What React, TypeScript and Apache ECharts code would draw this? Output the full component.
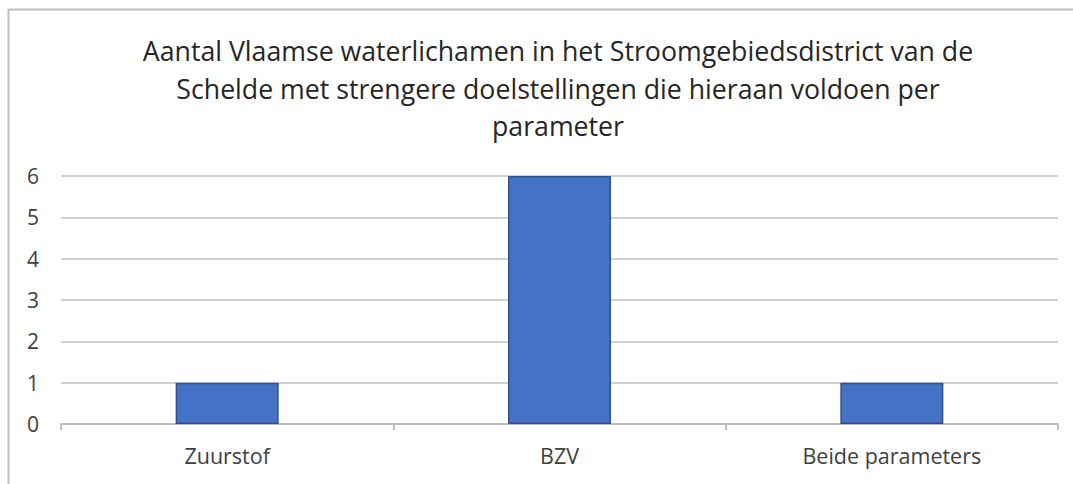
import React, { useEffect, useRef } from "react";
import * as echarts from "echarts";

const categories = ["Zuurstof", "BZV", "Beide parameters"];
const values = [1, 6, 1];
const titleLines = [
  "Aantal Vlaamse waterlichamen in het Stroomgebiedsdistrict van de",
  "Schelde met strengere doelstellingen die hieraan voldoen per",
  "parameter",
];

export default function App() {
  const ref = useRef<HTMLDivElement>(null);
  useEffect(() => {
    if (!ref.current) return;
    const chart = echarts.init(ref.current, undefined, { renderer: "svg" });
    const font = "'Open Sans', 'Noto Sans', sans-serif";
    chart.setOption({
      animation: false,
      backgroundColor: "#ffffff",
      textStyle: { fontFamily: font },
      title: {
        text: titleLines.join("\n"),
        left: 553,
        top: 27,
        textAlign: "center",
        textStyle: {
          fontFamily: font,
          fontSize: 26.7,
          fontWeight: "normal",
          color: "#262626",
          lineHeight: 37.5,
        },
      },
      graphic: [
        {
          type: "line",
          shape: { x1: 8.5, y1: 9, x2: 8.5, y2: 484 },
          style: { stroke: "#bdbdbd", lineWidth: 2 },
        },
        {
          type: "line",
          shape: { x1: 8, y1: 9.5, x2: 1073, y2: 9.5 },
          style: { stroke: "#bdbdbd", lineWidth: 2 },
        },
      ],
      grid: { left: 61, right: 15, top: 176, bottom: 60 },
      xAxis: {
        type: "category",
        data: categories,
        axisLine: { lineStyle: { color: "#bfbfbf", width: 2 } },
        axisTick: { show: true, length: 6, lineStyle: { color: "#bfbfbf", width: 2 } },
        axisLabel: { fontSize: 21.5, color: "#404040", margin: 20, fontFamily: font },
      },
      yAxis: {
        type: "value",
        min: 0,
        max: 6,
        interval: 1,
        axisLine: { show: false },
        axisTick: { show: false },
        axisLabel: { fontSize: 21, color: "#404040", margin: 22, fontFamily: font },
        splitLine: { lineStyle: { color: "#d0d0d0", width: 2 } },
      },
      series: [
        {
          type: "bar",
          data: values,
          barWidth: "31%",
          itemStyle: { color: "#4472C4", borderColor: "#2F528F", borderWidth: 1.5 },
        },
      ],
    });
    return () => chart.dispose();
  }, []);
  return (
    <div
      ref={ref}
      style={{ position: "absolute", left: 0, top: 0, width: 1073, height: 484 }}
    />
  );
}
